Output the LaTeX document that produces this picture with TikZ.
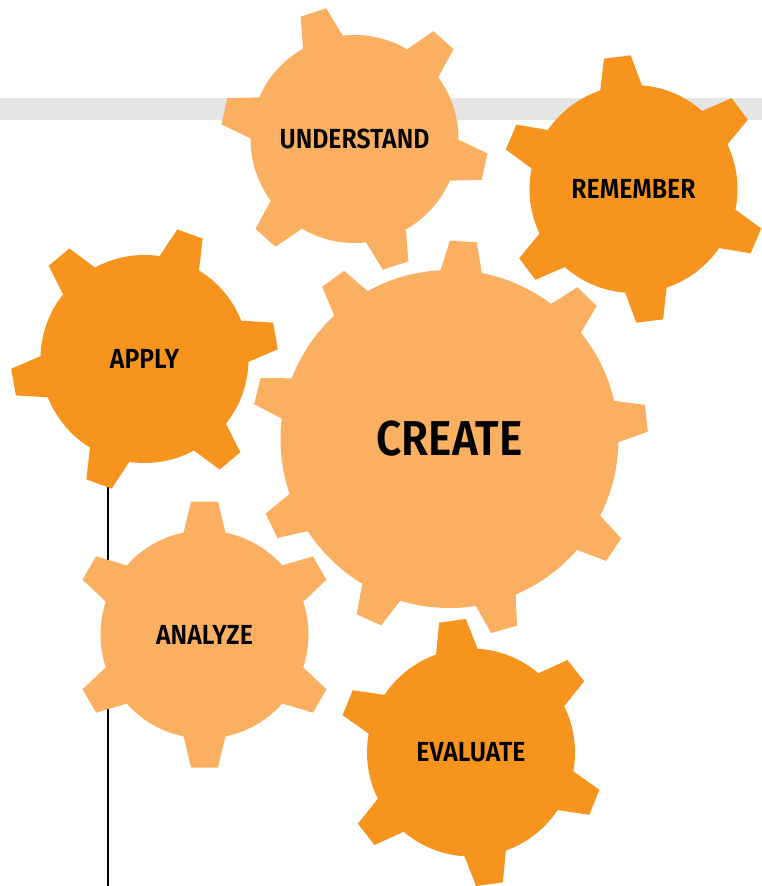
\documentclass[tikz,border=0pt]{standalone}
\usepackage{fontspec}
\setmainfont{Fira Sans}[BoldFont={Fira Sans SemiBold}, BoldFeatures={FakeStretch=0.9}]
\definecolor{lightorange}{HTML}{FAB060}
\definecolor{darkorange}{HTML}{F7941E}
\definecolor{bargray}{HTML}{E5E5E5}

\begin{document}
\begin{tikzpicture}[x=1pt,y=1pt]
  \useasboundingbox (0,0) rectangle (762,-886);
  % grey band and the thin stem below APPLY
  \fill[bargray] (0,-98) rectangle (762,-120);
  \coordinate (stem top) at (108,-470);
  \coordinate (stem end) at (108,-886);
  \draw[line width=1.2pt] (stem top) -- (stem end);
  % gears: name/x/y/radius/teeth/offset/colour/font size/text
  \foreach \g/\x/\y/\r/\nt/\off/\col/\fs/\txt in {
    understand/354.5/-139/104/6/-12/lightorange/27.6/UNDERSTAND,
    remember/633.5/-189/104/6/37/darkorange/27.6/REMEMBER,
    apply/144.5/-359/104/6/10/darkorange/27.6/APPLY,
    create/449.5/-439/169/9/6/lightorange/49/CREATE,
    analyze/204.5/-634.5/104/6/30/lightorange/27.6/ANALYZE,
    evaluate/471/-752.5/104/6/38/darkorange/27.6/EVALUATE}
  {
    \fill[\col] (\x,\y) circle (\r);
    \foreach \k in {1,...,\nt}
      \fill[\col, shift={(\x,\y)}, rotate={\off+\k*360/\nt}]
        (\r-15,-24) -- (\r+29,-13.5) -- (\r+29,13.5) -- (\r-15,24) -- cycle;
    \node[font=\bfseries\fontsize{\fs}{\fs}\selectfont] (\g) at (\x,\y) {\txt};
  }
\end{tikzpicture}
\end{document}
